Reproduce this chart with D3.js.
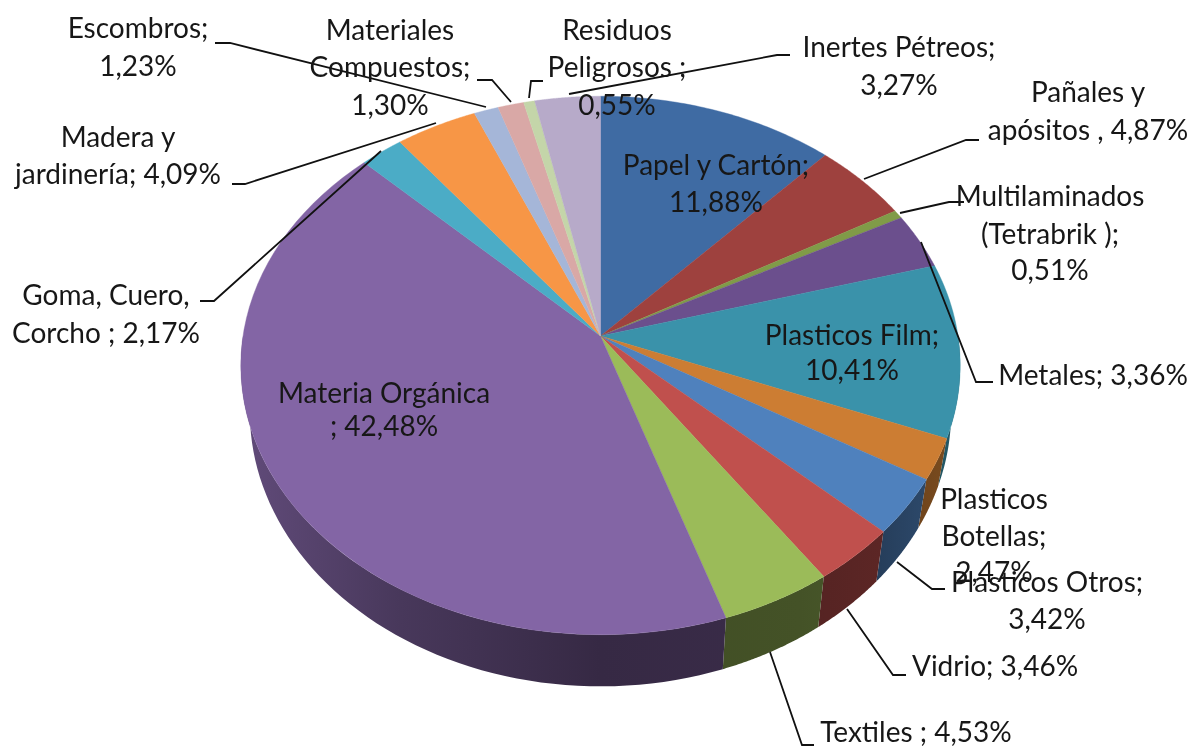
<!DOCTYPE html>
<html><head><meta charset="utf-8">
<script src="https://cdnjs.cloudflare.com/ajax/libs/d3/7.8.5/d3.min.js"></script>
<style>html,body{margin:0;background:#fff}svg{display:block;filter:blur(.45px)}text{font-family:Lato,"Open Sans",sans-serif;font-size:28px;fill:#171717}</style>
</head><body><script>
const categories=["Papel y Cartón","Pañales y apósitos","Multilaminados (Tetrabrik)","Metales","Plasticos Film","Plasticos Botellas","Plasticos Otros","Vidrio","Textiles","Materia Orgánica","Goma, Cuero, Corcho","Madera y jardinería","Escombros","Materiales Compuestos","Residuos Peligrosos","Inertes Pétreos"];
const values=[11.88,4.87,0.51,3.36,10.41,2.47,3.42,3.46,4.53,42.48,2.17,4.09,1.23,1.30,0.55,3.27];
const colors=["#3f6ba3","#9e413e","#809b48","#6b4f8d","#3a92aa","#cc7d33","#4f81bd","#c0504d","#9bbb59","#8365a5","#4bacc6","#f79646","#a5b6d8","#d9a8a6","#c4d5a9","#b7aac9"];
const labelLines=[["Papel y Cartón;","11,88%"],["Pañales y","apósitos , 4,87%"],["Multilaminados","(Tetrabrik );","0,51%"],["Metales; 3,36%"],["Plasticos Film;","10,41%"],["Plasticos","Botellas;","2,47%"],["Plasticos Otros;","3,42%"],["Vidrio; 3,46%"],["Textiles ; 4,53%"],["Materia Orgánica","; 42,48%"],["Goma, Cuero,","Corcho ; 2,17%"],["Madera y","jardinería; 4,09%"],["Escombros;","1,23%"],["Materiales","Compuestos;","1,30%"],["Residuos","Peligrosos ;","0,55%"],["Inertes Pétreos;","3,27%"]];
// layout: label centre x, centre y of each line
const labelPos=[[716,[165,202]],[1088,[92,130]],[1050,[196,234,270]],[1093,[375]],[852,[335,370]],[994,[499,536,572]],[1047,[582,619]],[995,[666]],[916,[732]],[384,[393,426]],[106,[295,333]],[118,[137,174]],[138,[28,66]],[390,[30,67,105]],[617,[30,67,105]],[899,[47,85]]];
const leaders=[null,[[979,140],[966,140],[864,179]],[[964,202],[949,202],[900,213]],[[993,382],[976,382],[921,242]],null,null,[[945,589],[932,589],[897,562]],[[906,675],[893,675],[847,609]],[[814,745],[802,745],[770,652]],null,[[200,301],[214,301],[381,151]],[[232,184],[245,184],[436,123]],[[215,43],[230,43],[486,107]],[[477,80],[492,80],[511,102]],[[543,81],[531,81],[529,98]],[[790,55],[777,55],[569,94]]];
const W=1192,H=749,cx=600.5,cy=336,R=357.5,A=266,k=0.1095,depth=46,shrink=0.975;
const top3=a=>{const u=Math.sin(a),v=Math.cos(a),w=1+k*v;return [cx+R*u/w,cy-A*v/w];};
const low3=a=>{const u=Math.sin(a),v=Math.cos(a),w=1+k*v;return [cx+shrink*R*u/w,cy+(-A*v+depth)/w];};
const svg=d3.select("body").append("svg").attr("width",W).attr("height",H);
const defs=svg.append("defs");
const pie=d3.pie().sort(null).value(d=>d)(values);
const line=d3.line();
const arcPts=(a0,a1,f)=>d3.range(0,61).map(i=>f(a0+(a1-a0)*i/60));
const shade=d3.scaleLinear().domain([240,400,600,800,880,960]).range([.74,.55,.41,.44,.48,.62]);
// sides, front half only
const front=pie.map((d,i)=>({a0:Math.max(d.startAngle,Math.PI/2),a1:Math.min(d.endAngle,1.5*Math.PI),i})).filter(d=>d.a1>d.a0);
front.forEach(d=>{
 const g=defs.append("linearGradient").attr("id","s"+d.i).attr("gradientUnits","userSpaceOnUse").attr("x1",240).attr("x2",960).attr("y1",0).attr("y2",0);
 const c=d3.rgb(colors[d.i]);
 shade.domain().forEach(x=>{const f=shade(x);g.append("stop").attr("offset",(x-240)/720).attr("stop-color",d3.rgb(c.r*f,c.g*f,c.b*f).formatHex());});
});
svg.append("g").selectAll("path").data(front).join("path")
 .attr("fill",d=>`url(#s${d.i})`)
 .attr("d",d=>line(arcPts(d.a0,d.a1,top3).concat(arcPts(d.a1,d.a0,low3)))+"Z");
// top face
svg.append("g").selectAll("path").data(pie).join("path")
 .attr("fill",(d,i)=>colors[i]).attr("stroke",(d,i)=>colors[i]).attr("stroke-width",.4)
 .attr("d",d=>line([[cx,cy]].concat(arcPts(d.startAngle,d.endAngle,top3)))+"Z");
// leaders
svg.append("g").selectAll("path").data(leaders.filter(Boolean)).join("path")
 .attr("fill","none").attr("stroke","#111").attr("stroke-width",1.8).attr("d",line);
// labels
const lg=svg.append("g").attr("text-anchor","middle");
labelLines.forEach((ls,i)=>{ls.forEach((t,j)=>{lg.append("text").attr("x",labelPos[i][0]).attr("y",labelPos[i][1][j]).attr("dy","0.35em").text(t);});});
</script></body></html>
